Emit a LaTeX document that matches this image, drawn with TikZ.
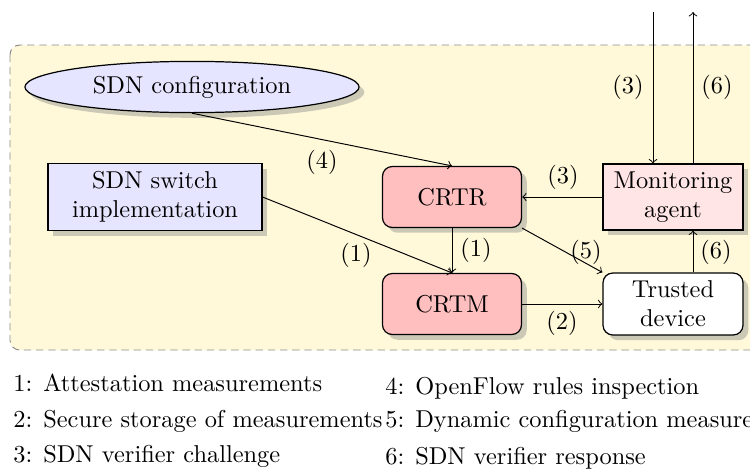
\documentclass[tikz,border=0pt]{standalone}
\usetikzlibrary{shapes.geometric,shadows,calc}
\definecolor{bgyellow}{HTML}{FFF9DA}
\begin{document}
\begin{tikzpicture}[x=0.41pt,y=-0.41pt,
  base/.style={draw=black,line width=0.5pt,drop shadow={opacity=0.4},align=center,inner sep=2pt},
  redbox/.style={base,rounded corners=4pt,fill=red!25,minimum width=57pt,minimum height=25pt},
  pinkbox/.style={base,fill=red!10,minimum width=57.4pt,minimum height=27pt},
  bluebox/.style={base,fill=blue!10,minimum width=87.7pt,minimum height=27.5pt},
  whitebox/.style={base,rounded corners=4pt,fill=white,minimum width=57.4pt,minimum height=25.4pt},
  blueell/.style={base,ellipse,fill=blue!10,minimum width=137pt,minimum height=21pt},
  lbl/.style={inner sep=1pt},
  legend/.style={anchor=base west,inner sep=0pt},
  conn/.style={->}]
\useasboundingbox (0,0) rectangle (750,471);
% background
\draw[dash pattern=on 3pt off 2pt,draw=black!45,fill=bgyellow,rounded corners=4pt] (10,45) rectangle (820,350);
% nodes
\node[blueell] (cfg) at (192,87) {SDN configuration};
\node[bluebox] (sw) at (155,197) {SDN switch\\implementation};
\node[redbox] (crtr) at (452,197) {CRTR};
\node[pinkbox] (mon) at (673,197) {Monitoring\\agent};
\node[redbox] (crtm) at (452,304) {CRTM};
\node[whitebox] (trust) at (673,304) {Trusted\\device};
\coordinate (top3) at (653,12);
\coordinate (top6) at (693,12);
% connectors
\draw[conn] (top3) -- (top3 |- mon.north);
\draw[conn] (mon.north -| top6) -- (top6);
\draw[conn] (mon.west) -- (crtr.east);
\draw[conn] (cfg.south) -- (crtr.north);
\draw[conn] (sw.east) -- (crtm.north);
\draw[conn] (crtr.south) -- (crtm.north);
\draw[conn] (crtr.south east) -- (trust.north west);
\draw[conn] (crtm.east) -- (trust.west);
\draw[conn] (trust.north -| top6) -- (mon.south -| top6);
% labels
\node[lbl] (l3a) at (628,87) {(3)};
\node[lbl] (l6a) at (717,87) {(6)};
\node[lbl] (l3b) at (563,177) {(3)};
\node[lbl] (l4) at (322,162) {(4)};
\node[lbl] (l1a) at (356,255) {(1)};
\node[lbl] (l1b) at (476,250) {(1)};
\node[lbl] (l5) at (586,252) {(5)};
\node[lbl] (l6b) at (716,252) {(6)};
\node[lbl] (l2) at (562,323) {(2)};
% legend
\node[legend] (g1) at (13,391) {1: Attestation measurements};
\node[legend] (g2) at (13,427) {2: Secure storage of measurements};
\node[legend] (g3) at (13,462) {3: SDN verifier challenge};
\node[legend] (g4) at (385,394) {4: OpenFlow rules inspection};
\node[legend] (g5) at (385,427) {5: Dynamic configuration measurements};
\node[legend] (g6) at (385,464) {6: SDN verifier response};
\end{tikzpicture}
\end{document}
